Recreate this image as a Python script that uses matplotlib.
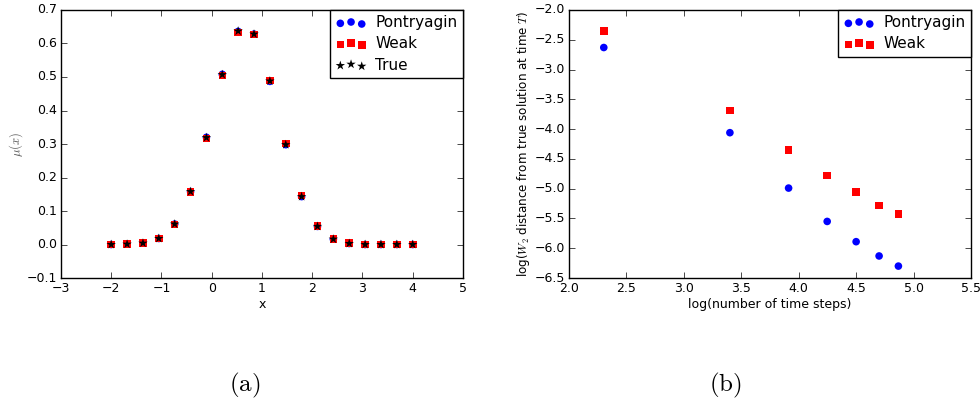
import matplotlib
matplotlib.use("Agg")
import matplotlib.pyplot as plt

plt.style.use("classic")
plt.rcParams["mathtext.fontset"] = "cm"

# (a) density at final time
x_grid = [-2.0, -1.684, -1.368, -1.053, -0.737, -0.421, -0.105, 0.211, 0.526, 0.842,
          1.158, 1.474, 1.789, 2.105, 2.421, 2.737, 3.053, 3.368, 3.684, 4.0]
mu_pontryagin = [0.000, 0.001, 0.004, 0.018, 0.061, 0.158, 0.320, 0.508, 0.636, 0.628,
                 0.487, 0.298, 0.143, 0.054, 0.016, 0.003, 0.000, 0.000, 0.000, 0.000]
mu_weak = [0.000, 0.001, 0.004, 0.018, 0.060, 0.156, 0.316, 0.504, 0.633, 0.627,
           0.489, 0.301, 0.146, 0.055, 0.016, 0.004, 0.000, 0.000, 0.000, 0.000]
mu_true = [0.000, 0.001, 0.004, 0.018, 0.061, 0.158, 0.319, 0.507, 0.637, 0.628,
           0.488, 0.298, 0.143, 0.054, 0.016, 0.003, 0.000, 0.000, 0.000, 0.000]

# (b) convergence
log_steps = [2.303, 3.401, 3.912, 4.248, 4.500, 4.700, 4.868]
err_pontryagin = [-2.63, -4.06, -4.99, -5.55, -5.89, -6.13, -6.30]
err_weak = [-2.35, -3.69, -4.35, -4.78, -5.06, -5.28, -5.43]

fig = plt.figure(figsize=(9.8, 4.08), dpi=100, facecolor="white")
ax1 = fig.add_axes([0.0622, 0.3186, 0.4102, 0.6569])
ax2 = fig.add_axes([0.5806, 0.3186, 0.4102, 0.6569])

leg_kw = dict(loc="upper right", fontsize=11, scatterpoints=3, borderaxespad=0.0,
              handletextpad=0.6, labelspacing=0.4, borderpad=0.35)

ax1.scatter(x_grid, mu_pontryagin, s=30, c="b", edgecolors="none", label="Pontryagin")
ax1.scatter(x_grid, mu_weak, s=30, c="r", marker="s", edgecolors="none", label="Weak")
ax1.scatter(x_grid, mu_true, s=50, c="k", marker="*", edgecolors="none", label="True")
ax1.set_xlim(-3, 5)
ax1.set_ylim(-0.1, 0.7)
ax1.set_xlabel("x", fontsize=9, labelpad=2)
ax1.set_ylabel(r"$\mu(x)$", fontsize=9, color="#555555", labelpad=1)
ax1.tick_params(labelsize=9, pad=3)
ax1.legend(**leg_kw)

ax2.scatter(log_steps, err_pontryagin, s=30, c="b", edgecolors="none", label="Pontryagin")
ax2.scatter(log_steps, err_weak, s=30, c="r", marker="s", edgecolors="none", label="Weak")
ax2.set_xlim(2.0, 5.5)
ax2.set_ylim(-6.5, -2.0)
ax2.set_xlabel("log(number of time steps)", fontsize=9, labelpad=2)
ax2.set_ylabel(r"log($W_2$ distance from true solution at time $T$)", fontsize=8.6, labelpad=2)
ax2.tick_params(labelsize=9, pad=3)
ax2.legend(**leg_kw)

fig.text(0.25, 0.04, r"$\mathrm{(a)}$", fontsize=18, ha="center")
fig.text(0.74, 0.04, r"$\mathrm{(b)}$", fontsize=18, ha="center")

fig.savefig("out.png", dpi=100, facecolor="white")
